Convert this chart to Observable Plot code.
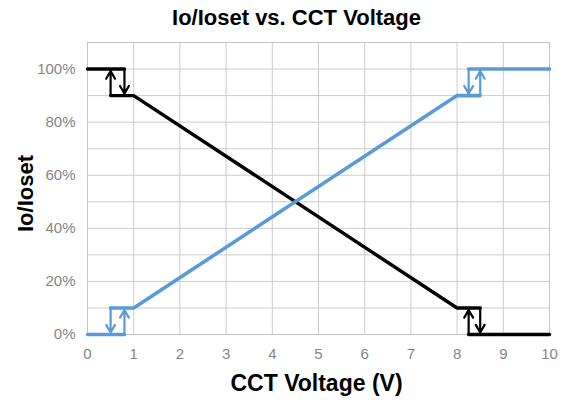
<!DOCTYPE html>
<html>
<head>
<meta charset="utf-8">
<script src="https://cdn.jsdelivr.net/npm/d3@7"></script>
<script src="https://cdn.jsdelivr.net/npm/@observablehq/plot@0.6"></script>
<style>
  html, body { margin: 0; padding: 0; background: #fff; }
  #chart svg { display: block; }
</style>
</head>
<body>
<div id="chart"></div>
<script>
// ---- data ----
const titleText = "Io/Ioset vs. CCT Voltage";
const xLabel = "CCT Voltage (V)";
const yLabel = "Io/Ioset";
const xTicks = [0, 1, 2, 3, 4, 5, 6, 7, 8, 9, 10];
const yTicks = [0, 20, 40, 60, 80, 100];
const yGrid = [0, 10, 20, 30, 40, 50, 60, 70, 80, 90, 100, 110];

// black (decreasing) curve, drawn as segments
const blackLine = [
  {seg: 1, x: 0, y: 100}, {seg: 1, x: 0.8, y: 100},
  {seg: 2, x: 0.5, y: 90}, {seg: 2, x: 1, y: 90}, {seg: 2, x: 8, y: 10}, {seg: 2, x: 8.5, y: 10},
  {seg: 3, x: 8.25, y: 0}, {seg: 3, x: 10, y: 0}
];
const blackArrows = [
  {x: 0.8, from: 100, to: 90},
  {x: 0.5, from: 90, to: 100},
  {x: 8.25, from: 0, to: 10},
  {x: 8.5, from: 10, to: 0}
];

// blue (increasing) curve
const blueLine = [
  {seg: 1, x: 0, y: 0}, {seg: 1, x: 0.8, y: 0},
  {seg: 2, x: 0.5, y: 10}, {seg: 2, x: 1, y: 10}, {seg: 2, x: 8, y: 90}, {seg: 2, x: 8.5, y: 90},
  {seg: 3, x: 8.25, y: 100}, {seg: 3, x: 10, y: 100}
];
const blueArrows = [
  {x: 0.5, from: 10, to: 0},
  {x: 0.8, from: 0, to: 10},
  {x: 8.25, from: 100, to: 90},
  {x: 8.5, from: 90, to: 100}
];

const BLUE = "#5b9bd5";
const FONT = "'Liberation Sans', Arial, sans-serif";

const chart = Plot.plot({
  width: 564,
  height: 400,
  marginTop: 42,
  marginBottom: 66,
  marginLeft: 87,
  marginRight: 15,
  style: {fontFamily: FONT, background: "#fff"},
  x: {domain: [0, 10]},
  y: {domain: [0, 110]},
  marks: [
    Plot.gridX(xTicks, {stroke: "#cccccc", strokeOpacity: 1}),
    Plot.gridY(yGrid, {stroke: "#cccccc", strokeOpacity: 1}),
    Plot.frame({stroke: "#c4c4c4"}),
    Plot.axisX(xTicks, {tickSize: 0, tickPadding: 14, fontSize: 15, fill: "#858585", label: null}),
    Plot.axisY(yTicks, {tickSize: 0, tickPadding: 12, fontSize: 15, fill: "#858585", label: null, tickFormat: d => d + "%"}),
    Plot.line(blackLine, {x: "x", y: "y", z: "seg", stroke: "#000", strokeWidth: 3.4, strokeLinejoin: "miter"}),
    Plot.line(blueLine, {x: "x", y: "y", z: "seg", stroke: BLUE, strokeWidth: 3.6, strokeLinejoin: "miter"}),
    Plot.arrow(blackArrows, {x: "x", y1: "from", y2: "to", stroke: "#000", strokeWidth: 2.2, headLength: 9, headAngle: 60, insetEnd: 2}),
    Plot.arrow(blueArrows, {x: "x", y1: "from", y2: "to", stroke: BLUE, strokeWidth: 2.2, headLength: 9, headAngle: 60, insetEnd: 2}),
    Plot.text([titleText], {frameAnchor: "top", textAnchor: "middle", dx: -22, dy: -25, lineAnchor: "middle", fontSize: 22, fontWeight: "bold", fill: "#000", letterSpacing: "-0.2px"}),
    Plot.text([xLabel], {frameAnchor: "bottom", textAnchor: "middle", dx: -2, dy: 49, lineAnchor: "middle", fontSize: 23, fontWeight: "bold", fill: "#000", letterSpacing: "-0.2px"}),
    Plot.text([yLabel], {frameAnchor: "left", textAnchor: "middle", dx: -62, dy: 5, rotate: -90, lineAnchor: "middle", fontSize: 22, fontWeight: "bold", fill: "#000"})
  ]
});
document.getElementById("chart").appendChild(chart);
</script>
</body>
</html>
